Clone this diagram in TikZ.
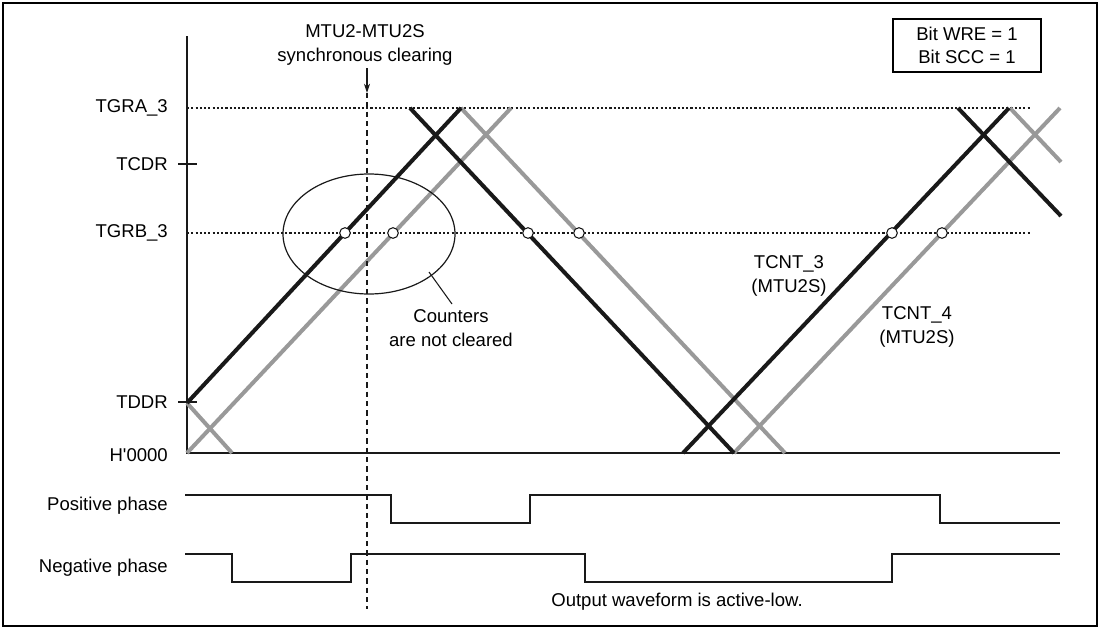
\documentclass[tikz,border=0pt]{standalone}
\usepackage{fontspec}
\setmainfont{Liberation Sans}
\usetikzlibrary{arrows.meta}
\definecolor{cgray}{gray}{0.6}
\definecolor{cblack}{gray}{0.1}
\begin{document}
\begin{tikzpicture}[x=0.75pt,y=-0.75pt,
  font=\fontsize{13.9pt}{17.5pt}\selectfont,
  lbl/.style={anchor=east, inner sep=0pt},
  txt/.style={align=center, inner sep=0pt},
  bctr/.style={line width=3pt, cblack},
  gctr/.style={line width=3pt, cgray},
  wave/.style={line width=2pt, cblack},
  dotl/.style={line width=1.1pt, dash pattern=on 1.6pt off 1.6pt, cblack},
  cmark/.style={circle, draw=cblack, fill=white, line width=0.8pt, minimum size=8pt, inner sep=0pt}]
\useasboundingbox (0,0) rectangle (1100,628);
\draw[line width=2pt] (3,3) rectangle (1097,626);

% axes
\draw[line width=1pt, cblack] (187,36) -- (187,453) -- (1060,453);
\draw[dotl] (187,108) -- (1030,108);
\draw[dotl] (187,233) -- (1030,233);
\draw[line width=1pt, cblack] (178,164) -- (197,164);
\draw[line width=1pt, cblack] (178,402) -- (197,402);

% axis labels
\node[lbl] (tgra) at (168,108) {TGRA\_3};
\node[lbl] (tcdr) at (168,164) {TCDR};
\node[lbl] (tgrb) at (168,233) {TGRB\_3};
\node[lbl] (tddr) at (168,402) {TDDR};
\node[lbl] (h0) at (168,455) {H\textquotesingle 0000};
\node[lbl] (pos) at (168,506) {Positive phase};
\node[lbl] (neg) at (168,568) {Negative phase};

% gray counter (TCNT_4)
\draw[gctr] (187,453) -- (511,108);
\draw[gctr] (461,108) -- (785,453);
\draw[gctr] (187,403) -- (232,453);
\draw[gctr] (734,453) -- (1060,108);
\draw[gctr] (1010,108) -- (1061,162);
% black counter (TCNT_3)
\draw[bctr] (187,403) -- (461,108);
\draw[bctr] (410,108) -- (734,453);
\draw[bctr] (683,453) -- (1009,108);
\draw[bctr] (958,108) -- (1061,216);

% compare-match marks
\node[cmark] (m1) at (345,233) {};
\node[cmark] (m2) at (393,233) {};
\node[cmark] (m3) at (528,233) {};
\node[cmark] (m4) at (579,233) {};
\node[cmark] (m5) at (892,233) {};
\node[cmark] (m6) at (942,233) {};

% synchronous clearing
\node[txt] (sync) at (365,45) {MTU2-MTU2S\\synchronous clearing};
\coordinate (arrtop) at (367,68);
\coordinate (arrtip) at (367,93);
\coordinate (dashbot) at (367,609);
\draw[-{Stealth[length=7pt,width=4.5pt]}, line width=0.8pt, cblack] (arrtop) -- (arrtip);
\draw[line width=0.9pt, cblack, dash pattern=on 4pt off 3pt] (arrtip) -- (dashbot);

% ellipse and note
\draw[line width=0.9pt, cblack] (369,234) ellipse [x radius=64.5pt, y radius=45pt];
\coordinate (ell) at (429,272);
\node[txt] (cnt) at (451,328) {Counters\\are not cleared};
\draw[line width=0.8pt, cblack] (ell) -- (452,304);

% counter labels
\node[txt] (t3) at (789,276) {TCNT\_3\\(MTU2S)};
\node[txt] (t4) at (917,327) {TCNT\_4\\(MTU2S)};

% bit box
\node[draw, line width=0.8pt, align=center, minimum width=111pt, minimum height=39.75pt, inner sep=0pt] (bits) at (967,45.5) {Bit WRE = 1\\Bit SCC = 1};

% waveforms
\draw[wave] (185,495) -- (391,495) -- (391,523) -- (530,523) -- (530,495) -- (940,495) -- (940,523) -- (1060,523);
\draw[wave] (185,554) -- (232,554) -- (232,582) -- (351,582) -- (351,554) -- (585,554) -- (585,582) -- (892,582) -- (892,554) -- (1060,554);

\node[txt] (out) at (677,602) {Output waveform is active-low.};
\end{tikzpicture}
\end{document}
